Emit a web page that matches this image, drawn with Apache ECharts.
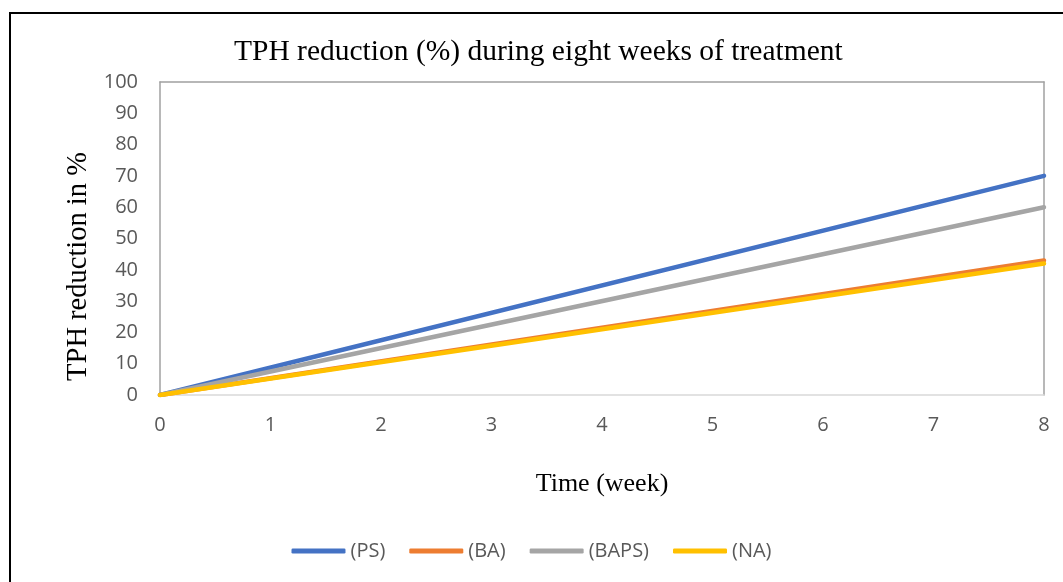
<!DOCTYPE html>
<html>
<head>
<meta charset="utf-8">
<script src="https://cdn.jsdelivr.net/npm/echarts@6/dist/echarts.min.js"></script>
<style>html,body{margin:0;padding:0;background:#fff}#c{width:1063px;height:582px}</style>
</head>
<body>
<div id="c"></div>
<script>
const weeks = [0, 8];
const seriesNames = ['(PS)', '(BA)', '(BAPS)', '(NA)'];
const PS = [0, 70];
const BA = [0, 43];
const BAPS = [0, 60];
const NA = [0, 42];
const colors = ['#4472C4', '#ED7D31', '#A5A5A5', '#FFC000'];
const values = [PS, BA, BAPS, NA];

const chart = echarts.init(document.getElementById('c'), null, {renderer: 'canvas'});
const sans = '"Open Sans", "Noto Sans", sans-serif';
const serif = '"Liberation Serif", "DejaVu Serif", serif';

chart.setOption({
  animation: false,
  backgroundColor: '#fff',
  title: {
    text: 'TPH reduction (%) during eight weeks of treatment',
    left: 229, top: 32,
    textStyle: {fontFamily: serif, fontSize: 29.5, fontWeight: 'normal', color: '#000'}
  },
  graphic: [{
    type: 'rect', left: 7.5, top: 10.5, silent: true,
    shape: {x: 0, y: 0, width: 1100, height: 620},
    style: {fill: 'none', stroke: '#000', lineWidth: 2}
  }],
  legend: {
    top: 536, left: 'center',
    itemWidth: 54, itemHeight: 5, itemGap: 24,
    icon: 'roundRect',
    data: seriesNames,
    textStyle: {fontFamily: sans, fontSize: 20, color: '#595959'}
  },
  grid: {left: 160, top: 82, right: 19, bottom: 187, containLabel: false},
  xAxis: [{
    type: 'value', min: 0, max: 8, interval: 1,
    name: 'Time (week)', nameLocation: 'middle', nameGap: 76,
    nameTextStyle: {fontFamily: serif, fontSize: 26, color: '#000'},
    axisLine: {show: true, lineStyle: {color: '#D9D9D9', width: 1.5}},
    axisTick: {show: false},
    splitLine: {show: false},
    axisLabel: {fontFamily: sans, fontSize: 20, color: '#595959', margin: 20}
  }, {
    type: 'value', min: 0, max: 8, position: 'top',
    axisLine: {show: true, onZero: false, lineStyle: {color: '#A0A0A0', width: 1.5}},
    axisTick: {show: false}, axisLabel: {show: false}, splitLine: {show: false}
  }],
  yAxis: [{
    type: 'value', min: 0, max: 100, interval: 10,
    name: 'TPH reduction in %', nameLocation: 'middle', nameGap: 66,
    nameTextStyle: {fontFamily: serif, fontSize: 28.5, color: '#000', padding: [0, 56, 0, 0]},
    axisLine: {show: true, onZero: false, lineStyle: {color: '#A0A0A0', width: 1.5}},
    axisTick: {show: false},
    splitLine: {show: false},
    axisLabel: {fontFamily: sans, fontSize: 20, color: '#595959', margin: 22}
  }, {
    type: 'value', min: 0, max: 100, position: 'right',
    axisLine: {show: true, onZero: false, lineStyle: {color: '#A0A0A0', width: 1.5}},
    axisTick: {show: false}, axisLabel: {show: false}, splitLine: {show: false}
  }],
  series: seriesNames.map((n, i) => ({
    name: n, type: 'line',
    data: weeks.map((w, j) => [w, values[i][j]]),
    showSymbol: false, symbol: 'none',
    color: colors[i],
    lineStyle: {width: 4.5, color: colors[i], cap: 'round'},
    z: 3 + i
  }))
});
</script>
</body>
</html>
